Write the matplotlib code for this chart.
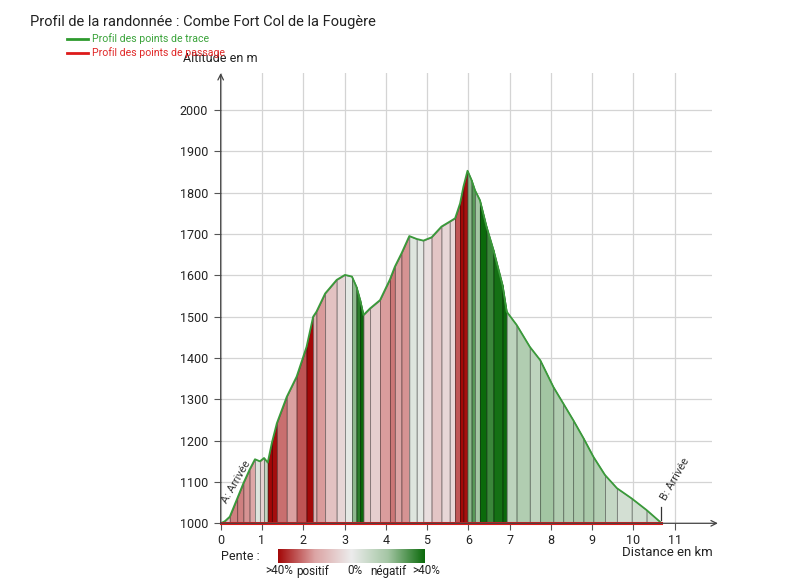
import numpy as np
import matplotlib
matplotlib.use("Agg")
import matplotlib.pyplot as plt
from matplotlib.colors import LinearSegmentedColormap, Normalize

plt.rcParams['font.family'] = ['Roboto', 'DejaVu Sans']

# ---- data ----
dist = [0, 0.1, 0.22, 0.4, 0.55, 0.7, 0.83, 0.95, 1.05, 1.14, 1.24, 1.36, 1.6, 1.84,
        2.08, 2.24, 2.32, 2.53, 2.81, 3.01, 3.18, 3.29, 3.38, 3.46, 3.62, 3.86, 4.1,
        4.22, 4.38, 4.57, 4.75, 4.91, 5.11, 5.35, 5.55, 5.68, 5.80, 5.88, 5.98, 6.08,
        6.16, 6.28, 6.44, 6.61, 6.83, 6.93, 7.17, 7.49, 7.74, 8.06, 8.30, 8.54, 8.79,
        9.03, 9.31, 9.60, 9.96, 10.32, 10.64, 10.68]
elev = [1000, 1005, 1016, 1060, 1097, 1130, 1155, 1150, 1158, 1147, 1195, 1242, 1306, 1355,
        1427, 1500, 1512, 1556, 1589, 1601, 1597, 1572, 1540, 1504, 1520, 1540, 1590,
        1621, 1653, 1695, 1688, 1684, 1692, 1718, 1730, 1738, 1774, 1814, 1853, 1830,
        1806, 1782, 1718, 1661, 1576, 1512, 1480, 1427, 1395, 1330, 1290, 1250, 1206,
        1161, 1117, 1085, 1060, 1032, 1004, 1000]
passage_dist = [0, 10.68]
passage_elev = [1000, 1000]
x_ticks = list(range(0, 12))
y_ticks = list(range(1000, 2001, 100))
title = "Profil de la randonnée : Combe Fort Col de la Fougère"
legend_labels = ["Profil des points de trace", "Profil des points de passage"]
cbar_labels = [">40%", "positif", "0%", "négatif", ">40%"]
start_label = "A: Arrivée"
end_label = "B: Arrivée"

W, H = 799, 586
fig = plt.figure(figsize=(W / 100, H / 100), dpi=100)
fig.patch.set_facecolor('white')

def fx(px):
    return px / W

def fy(py):
    return 1 - py / H

ax_l, ax_r, ax_t, ax_b = 220.7, 712, 73, 523.3
ax = fig.add_axes([fx(ax_l), fy(ax_b), (ax_r - ax_l) / W, (ax_b - ax_t) / H])
ax.set_xlim(0, (ax_r - ax_l) / 41.27)
ax.set_ylim(1000, 1000 + (ax_b - ax_t) / 0.4133)

cmap = LinearSegmentedColormap.from_list(
    'pente', [(0.0, '#0b6a0b'), (0.25, '#a4c6a4'), (0.5, '#ececec'),
              (0.75, '#dca4a4'), (1.0, '#a30808')])
norm = Normalize(vmin=-40, vmax=40)

d = np.array(dist)
e = np.array(elev)
for i in range(len(d) - 1):
    slope = (e[i + 1] - e[i]) / ((d[i + 1] - d[i]) * 1000) * 100
    c = np.array(cmap(norm(np.clip(slope, -40, 40)))[:3])
    edge = c * 0.55
    ax.fill_between([d[i], d[i + 1]], [e[i], e[i + 1]], 1000, facecolor=c,
                    edgecolor=edge, linewidth=0.6, zorder=2)

ax.plot(d, e, color='#3a9a3a', lw=1.3, zorder=4)
ax.plot(passage_dist, passage_elev, color='#dd1a1a', lw=2.2, zorder=5, clip_on=False)

# grid
ax.set_xticks(x_ticks)
ax.set_yticks(y_ticks)
ax.grid(True, color='#d4d4d4', lw=0.9, zorder=0)
ax.set_axisbelow(True)
for s in ax.spines.values():
    s.set_visible(False)
ax.tick_params(axis='both', colors='#555555', labelcolor='#222222', labelsize=9,
               length=5, width=0.8, direction='out')
ax.tick_params(axis='x', pad=3)
ax.tick_params(axis='y', pad=4)

# axis arrows
ax.annotate('', xy=(1.012, 0), xytext=(0, 0), xycoords='axes fraction',
            arrowprops=dict(arrowstyle='->', color='#444444', lw=0.9, shrinkA=0, shrinkB=0),
            zorder=6)
ax.annotate('', xy=(0, 1.0), xytext=(0, 0), xycoords='axes fraction',
            arrowprops=dict(arrowstyle='->', color='#444444', lw=0.9, shrinkA=0, shrinkB=0),
            zorder=6)

# start / end labels
ax.text(0.15, 1046, start_label, rotation=60, rotation_mode='anchor', ha='left',
        va='baseline', fontsize=8, color='#333333', zorder=7)
ax.plot([10.68, 10.68], [1008, 1040], color='#333333', lw=0.9, zorder=7)
ax.text(10.8, 1054, end_label, rotation=60, rotation_mode='anchor', ha='left',
        va='baseline', fontsize=8, color='#333333', zorder=7)

# texts
fig.text(fx(30), fy(22), title, fontsize=10.5, color='#222222', ha='left', va='center')
fig.text(fx(220), fy(58), "Altitude en m", fontsize=9, color='#222222', ha='center', va='center')
fig.text(fx(713), fy(553), "Distance en km", fontsize=9.5, color='#222222', ha='right', va='center')

# legend
leg_colors = ['#2e9a2e', '#dd1a1a']
leg_text_colors = ['#3aa33a', '#e02828']
for k, (lab, lc, tc) in enumerate(zip(legend_labels, leg_colors, leg_text_colors)):
    yy = 39 + 14 * k
    fig.add_artist(plt.Line2D([fx(67), fx(88)], [fy(yy), fy(yy)], color=lc, lw=2))
    fig.text(fx(92), fy(yy), lab, fontsize=7.6, color=tc, ha='left', va='center')

# colour bar
cax = fig.add_axes([fx(277.7), fy(562.7), (424.3 - 277.7) / W, (562.7 - 549.3) / H])
grad = np.linspace(40, -40, 256)[None, :]
cax.imshow(grad, aspect='auto', cmap=cmap, norm=norm)
cax.set_axis_off()
fig.text(fx(221), fy(556.5), "Pente :", fontsize=9, color='#222222', ha='left', va='center')
cb_x = [279, 313, 355, 388, 426]
for t, xx in zip(cbar_labels, cb_x):
    fig.text(fx(xx), fy(571), t, fontsize=8.5, color='#222222', ha='center', va='center')

fig.savefig('out.png', dpi=100, facecolor='white')
